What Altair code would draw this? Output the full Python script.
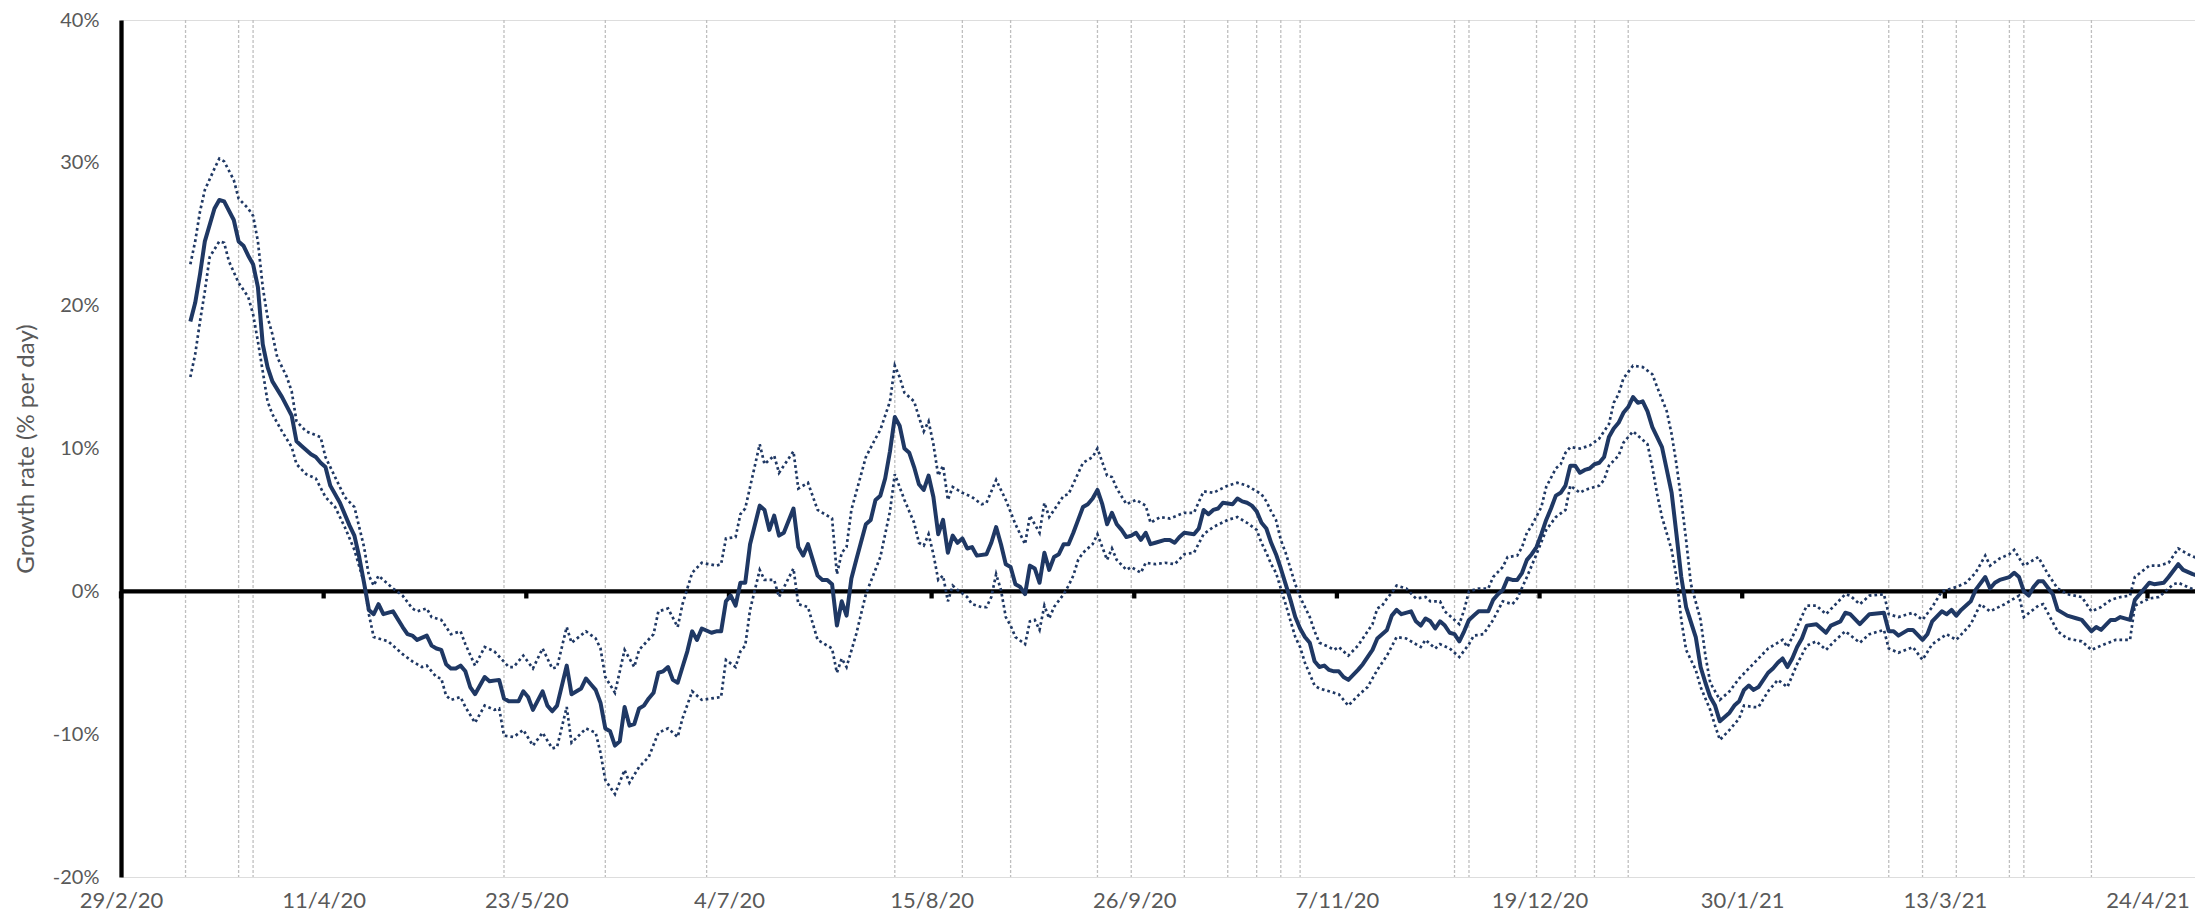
import altair as alt
import pandas as pd

# ---- data (days since 29/2/20, growth rate in % per day) ----
main_day = [14,15,16,17,19,20,21,23,24,25,26,27,28,29,30,31,33,35,36,37,39,40,41,42,43,45,47,48,49,50,51,52,53,54,56,58,59,60,61,63,64,65,66,67,68,69,70,71,72,73,75,76,78,79,80,82,83,84,85,87,88,89,90,92,93,95,96,97,98,99,100,101,102,103,104,105,106,107,108,109,110,111,112,113,114,115,116,117,118,119,120,122,123,124,125,126,127,128,129,130,132,133,134,135,136,137,139,140,141,142,144,145,146,147,148,149,150,151,152,154,155,156,157,158,159,160,161,162,163,164,165,166,167,168,169,170,171,172,173,174,175,176,177,179,180,181,182,183,184,185,186,187,188,189,190,191,192,193,194,195,196,197,198,199,200,201,202,203,204,205,206,207,208,209,210,211,212,213,214,216,217,218,219,220,222,223,224,225,226,227,228,230,231,232,233,234,235,236,237,238,239,240,241,242,243,244,245,246,247,248,249,250,251,252,253,254,256,257,259,260,262,263,264,265,267,268,269,270,271,272,273,274,275,276,277,278,279,280,281,283,284,285,286,287,288,289,290,291,292,293,294,295,296,297,298,299,300,301,302,303,304,305,306,307,308,309,310,311,312,313,314,315,316,317,319,320,321,322,323,324,326,327,328,329,330,331,332,333,334,335,336,337,338,339,341,342,343,344,345,346,347,348,349,351,353,354,356,357,358,360,362,365,366,367,368,370,371,373,374,375,377,378,379,380,381,383,384,386,387,388,389,391,392,393,394,395,396,397,398,400,401,403,405,406,407,408,409,410,412,413,414,416,417,419,420,421,423,424,426,427,429,430,431]
main_val = [18.9,20.2,22.2,24.5,26.8,27.4,27.3,26.0,24.5,24.2,23.5,22.9,21.3,17.3,15.7,14.7,13.6,12.3,10.5,10.2,9.6,9.4,9.0,8.7,7.4,6.2,4.6,3.9,2.4,0.6,-1.3,-1.6,-0.9,-1.6,-1.4,-2.5,-3.0,-3.1,-3.4,-3.1,-3.8,-4.0,-4.1,-5.1,-5.4,-5.4,-5.2,-5.6,-6.7,-7.2,-6.0,-6.3,-6.2,-7.5,-7.7,-7.7,-7.0,-7.4,-8.3,-7.0,-8.0,-8.4,-8.0,-5.2,-7.2,-6.8,-6.1,-6.5,-6.9,-7.8,-9.6,-9.8,-10.8,-10.5,-8.1,-9.4,-9.3,-8.2,-8.0,-7.5,-7.1,-5.7,-5.6,-5.3,-6.2,-6.4,-5.3,-4.2,-2.8,-3.4,-2.6,-2.9,-2.8,-2.8,-0.7,-0.3,-1.0,0.6,0.6,3.3,6.0,5.7,4.3,5.3,3.9,4.1,5.8,3.1,2.5,3.3,1.1,0.8,0.8,0.5,-2.4,-0.7,-1.7,0.9,2.2,4.7,5.0,6.4,6.7,7.9,9.8,12.2,11.6,10.0,9.7,8.7,7.5,7.1,8.1,6.6,4.0,5.0,2.7,3.9,3.4,3.7,3.0,3.1,2.5,2.6,3.4,4.5,3.3,1.9,1.7,0.5,0.3,-0.2,1.8,1.6,0.6,2.7,1.5,2.4,2.6,3.3,3.3,4.1,5.0,5.9,6.1,6.5,7.1,6.1,4.7,5.5,4.7,4.3,3.8,3.9,4.1,3.6,4.1,3.3,3.4,3.6,3.6,3.4,3.8,4.1,4.0,4.4,5.7,5.4,5.7,5.8,6.2,6.1,6.5,6.3,6.2,6.0,5.6,4.8,4.4,3.4,2.6,1.6,0.5,-0.6,-1.8,-2.6,-3.2,-3.6,-4.9,-5.3,-5.2,-5.5,-5.6,-5.6,-6.0,-6.2,-5.5,-5.1,-4.1,-3.3,-2.7,-1.7,-1.3,-1.6,-1.4,-2.1,-2.4,-1.9,-2.1,-2.6,-2.1,-2.4,-2.9,-3.0,-3.5,-2.8,-2.0,-1.7,-1.4,-1.4,-0.6,-0.2,0.1,0.9,0.8,0.8,1.3,2.2,2.6,3.1,4.0,5.0,5.8,6.7,6.9,7.4,8.8,8.8,8.3,8.5,8.6,8.9,9.0,9.4,10.8,11.4,11.8,12.5,12.9,13.6,13.2,13.3,12.6,11.5,10.1,8.5,6.9,4.0,1.0,-1.1,-3.2,-5.3,-6.4,-7.4,-8.0,-9.1,-8.8,-8.5,-8.0,-7.7,-6.9,-6.6,-6.9,-6.7,-5.7,-5.4,-5.0,-4.7,-5.3,-4.7,-3.9,-3.3,-2.4,-2.3,-2.9,-2.4,-2.1,-1.5,-1.6,-2.3,-1.6,-1.5,-2.8,-2.8,-3.1,-2.7,-2.7,-3.4,-3.0,-2.1,-1.4,-1.6,-1.3,-1.7,-1.3,-0.7,0.1,1.0,0.2,0.6,0.8,1.0,1.3,1.0,0.0,-0.3,0.3,0.7,0.7,-0.2,-1.3,-1.7,-1.9,-2.0,-2.4,-2.8,-2.5,-2.7,-2.0,-2.0,-1.8,-2.0,-0.6,0.2,0.6,0.5,0.6,1.0,1.9,1.5,1.2,1.1,0.5]

upper_day = [14,15,16,17,19,20,21,23,24,26,27,28,29,30,31,32,34,35,36,38,41,42,44,46,48,50,51,52,53,55,56,58,60,61,63,64,66,68,70,71,73,75,77,80,81,83,85,87,89,90,92,93,96,98,99,100,102,104,106,107,110,111,113,115,116,118,120,123,124,125,127,128,129,132,133,135,136,139,140,142,144,147,148,149,150,151,154,156,157,159,160,161,162,164,165,166,167,168,169,170,171,172,174,176,178,179,181,183,185,187,188,190,191,192,195,196,199,201,202,204,205,206,208,210,212,213,215,217,220,222,224,226,229,231,233,235,236,237,238,239,240,241,242,243,244,246,247,248,250,251,252,254,256,257,259,260,261,262,263,264,266,268,270,271,273,274,276,277,278,279,281,283,284,286,287,289,290,291,292,294,295,297,298,299,300,302,304,306,308,309,310,311,313,315,317,318,320,321,322,323,324,325,327,328,329,331,333,335,337,339,341,342,344,345,347,349,351,353,355,357,358,360,362,365,366,368,371,373,375,377,380,382,384,386,387,389,391,392,394,396,397,399,401,403,406,408,410,412,414,416,417,420,422,424,426,428,430]
upper_val = [22.9,24.5,26.6,28.1,29.6,30.3,30.1,28.8,27.5,26.8,26.3,24.5,21.3,19.2,18.0,16.4,15.0,14.0,11.9,11.2,10.8,9.4,8.0,6.6,5.9,3.1,1.1,0.4,1.1,0.5,0.2,-0.3,-1.2,-1.4,-1.2,-1.8,-2.0,-3.0,-2.8,-3.7,-5.2,-3.9,-4.2,-5.3,-5.3,-4.5,-5.4,-4.0,-5.4,-5.3,-2.5,-3.6,-2.8,-3.3,-4.0,-6.0,-7.1,-4.1,-5.3,-4.1,-3.0,-1.4,-1.2,-2.5,-0.9,1.3,2.0,1.8,1.9,3.7,3.8,5.4,5.8,10.3,8.9,9.5,8.3,9.8,7.2,7.6,5.7,5.1,1.2,2.7,3.1,5.7,9.4,10.7,11.3,13.3,15.8,15.0,13.9,13.3,12.2,11.2,11.9,10.3,8.1,8.8,6.4,7.3,6.9,6.6,6.1,6.2,7.8,6.4,4.7,3.3,5.3,4.1,6.2,5.2,6.7,6.8,9.0,9.4,10.0,8.1,8.0,7.2,6.1,6.4,6.0,4.8,5.2,5.1,5.5,5.5,7.0,6.9,7.4,7.6,7.4,7.0,6.8,6.3,5.6,5.0,3.6,2.7,1.6,0.5,-0.4,-1.8,-2.8,-3.6,-3.9,-4.1,-3.9,-4.5,-3.8,-3.3,-2.3,-1.2,-1.0,-0.5,-0.1,0.4,0.2,-0.5,-0.4,-0.7,-0.7,-1.4,-2.0,-2.3,-1.3,0.0,0.2,0.2,1.0,1.7,2.4,2.5,3.1,4.1,4.6,5.9,7.3,8.6,8.9,9.7,10.1,10.0,10.2,10.7,11.7,13.2,13.8,14.9,15.8,15.7,15.2,14.3,12.6,11.0,8.9,6.4,3.6,0.5,-2.0,-4.5,-6.4,-7.6,-7.0,-6.1,-5.4,-4.7,-4.0,-3.8,-3.4,-3.9,-2.5,-1.0,-1.0,-1.6,-0.9,-0.2,-0.3,-0.9,-0.3,-0.2,-1.6,-1.8,-1.5,-2.0,-1.1,0.0,0.3,0.6,1.3,2.5,1.8,2.3,2.6,2.9,1.8,2.2,2.4,1.2,0.2,-0.2,-0.4,-1.4,-1.1,-0.6,-0.4,-0.3,1.0,1.8,1.8,2.0,3.0,2.6,2.3]

lower_day = [14,15,16,17,18,20,21,22,24,26,27,28,29,30,31,33,35,36,38,40,42,44,46,48,50,51,52,53,55,58,60,62,63,65,66,67,68,70,71,73,75,77,78,79,81,83,85,87,89,90,92,93,96,98,99,100,102,104,105,107,109,111,113,115,116,118,120,122,124,125,127,128,129,130,132,133,135,136,139,140,142,144,147,148,149,150,152,154,157,159,160,162,164,165,166,167,168,169,170,171,172,173,175,176,178,179,180,181,182,183,184,185,187,188,189,190,191,192,193,195,196,197,198,199,201,202,203,204,205,206,208,209,211,212,214,216,218,220,222,224,226,229,231,233,235,236,237,238,239,240,241,243,244,245,247,248,249,251,252,253,254,256,258,260,262,264,266,269,270,272,273,275,277,279,280,282,284,286,288,289,291,293,295,297,299,300,302,303,306,307,308,310,311,313,314,316,317,318,319,321,322,323,324,326,327,329,330,331,333,335,336,338,339,341,343,345,347,349,351,353,355,357,360,362,365,366,368,371,373,375,378,380,383,385,387,390,393,394,397,398,401,403,406,408,410,413,416,417,420,422,425,426,428,430]
lower_val = [15.0,16.6,18.9,21.0,23.4,24.5,24.4,23.1,21.6,20.6,19.4,17.5,15.4,13.3,12.4,11.2,10.1,8.9,8.2,7.9,6.6,5.9,4.5,2.9,0.6,-1.6,-3.2,-3.3,-3.5,-4.4,-4.9,-5.3,-5.2,-6.0,-6.1,-7.3,-7.6,-7.4,-8.1,-9.2,-8.0,-8.3,-8.2,-10.1,-10.2,-9.7,-10.8,-9.9,-11.0,-10.9,-8.1,-10.6,-9.6,-9.9,-11.3,-13.2,-14.2,-12.5,-13.4,-12.3,-11.6,-9.9,-9.6,-10.2,-8.9,-7.0,-7.6,-7.5,-7.4,-4.8,-5.3,-4.2,-3.8,-1.3,1.5,0.8,0.8,-0.4,1.6,-0.9,-1.1,-3.4,-4.0,-5.7,-4.7,-5.3,-3.0,-0.2,2.4,5.6,8.2,6.4,4.8,3.4,3.2,4.0,2.6,0.8,1.1,-0.7,0.4,0.1,-0.4,-0.9,-1.1,-1.1,-0.4,1.2,0.1,-1.8,-2.4,-3.2,-3.7,-2.1,-2.0,-2.7,-1.0,-1.9,-1.1,-0.2,0.4,1.1,2.2,2.7,3.3,4.0,3.1,2.2,3.0,2.2,1.5,1.7,1.3,2.0,1.9,2.0,1.9,2.6,2.7,4.0,4.5,5.0,5.2,4.8,4.3,3.4,2.7,1.9,1.3,0.2,-0.9,-3.2,-3.9,-5.0,-6.6,-6.8,-6.9,-7.1,-7.2,-7.6,-8.0,-7.3,-6.7,-5.5,-4.5,-3.2,-3.3,-3.9,-3.4,-4.0,-3.7,-4.0,-4.6,-3.7,-3.1,-3.0,-2.0,-0.7,-0.9,-0.5,1.0,2.6,4.3,5.2,5.7,7.4,6.9,7.1,7.4,7.8,8.8,9.5,10.4,11.2,10.9,10.3,8.7,6.8,5.2,2.9,1.0,-2.0,-4.1,-5.5,-6.7,-8.3,-9.4,-10.4,-9.7,-8.9,-8.0,-8.1,-8.1,-7.0,-6.2,-6.7,-5.1,-3.8,-3.5,-4.1,-3.4,-2.8,-3.6,-3.0,-2.7,-4.0,-4.3,-3.9,-4.8,-3.7,-3.0,-3.4,-2.3,-0.9,-1.4,-0.9,-0.3,-1.8,-1.0,-0.9,-2.8,-3.3,-3.5,-4.1,-3.8,-3.4,-3.4,-1.0,-0.5,-0.4,0.5,0.6,0.3,0.0]

# dates of the vertical reference lines (days since 29/2/20)
event_day = [13,24,27,79,100,121,160,174,184,202,209,220,229,235,240,244,276,279,293,301,305,312,366,373,380,391,394,408]
# x tick dates (days since 29/2/20)
tick_day = [0,42,84,126,168,210,252,294,336,378,420]
y_ticks = [-20,-10,0,10,20,30,40]

START = pd.Timestamp("2020-02-29", tz="UTC")
def to_ms(days, hours=0.0):
    return [int((START + pd.Timedelta(days=d, hours=hours)).value // 10**6) for d in days]

PLOT_W, PLOT_H = 2074, 857
X_END_DAYS = PLOT_W / 4.825
x_dom = [to_ms([0])[0], to_ms([X_END_DAYS])[0]]
POINT_SHIFT_H = 9  # points sit inside the day slot (Excel date axis)

FONT = "Lato"
GREY = "#595959"
NAVY = "#1F3864"

x_scale = alt.Scale(type="utc", domain=x_dom, nice=False)
y_scale = alt.Scale(domain=[-20, 40], nice=False, zero=False)
x_axis = alt.Axis(values=to_ms(tick_day), labelExpr="utcFormat(datum.value, '%-d/%-m/%y')",
                  domain=False, ticks=False, grid=False, labelFont=FONT, labelFontSize=22,
                  labelColor=GREY, labelPadding=13, labelFlush=False, labelOverlap=False, title=None)
y_axis = alt.Axis(values=y_ticks, labelExpr="datum.value + '%'", domain=True, domainColor="black",
                  domainWidth=4.3, ticks=False, grid=False, labelFont=FONT, labelFontSize=20,
                  labelColor=GREY, labelPadding=22, title="Growth rate (% per day)",
                  titleFont=FONT, titleFontSize=24, titleColor=GREY, titleFontWeight="normal",
                  titleX=-95, titleY=PLOT_H / 2, titleAngle=-90, titleAlign="center",
                  titleBaseline="middle")

def X(field="t"):
    return alt.X(f"{field}:T", scale=x_scale, axis=x_axis)
def Y(field="v"):
    return alt.Y(f"{field}:Q", scale=y_scale, axis=y_axis)

df_main = pd.DataFrame({"t": to_ms(main_day, POINT_SHIFT_H), "v": main_val})
df_up = pd.DataFrame({"t": to_ms(upper_day, POINT_SHIFT_H), "v": upper_val})
df_lo = pd.DataFrame({"t": to_ms(lower_day, POINT_SHIFT_H), "v": lower_val})
df_ev = pd.DataFrame({"t": to_ms(event_day, POINT_SHIFT_H)})
df_zero = pd.DataFrame({"v": [0]})
df_ticks = pd.DataFrame({"t": to_ms(tick_day), "v": [0.0] * len(tick_day), "v2": [-0.5] * len(tick_day)})

events = alt.Chart(df_ev).mark_rule(color="#BFBFBF", strokeWidth=1.3, strokeDash=[3, 2]).encode(x=X())
zero = alt.Chart(df_zero).mark_rule(color="black", strokeWidth=4.3).encode(y=Y())
ticks = alt.Chart(df_ticks).mark_rule(color="black", strokeWidth=4.3).encode(x=X(), y=Y(), y2="v2:Q")
upper = alt.Chart(df_up).mark_line(color=NAVY, strokeWidth=2.7, strokeDash=[2.7, 3], clip=True).encode(x=X(), y=Y())
lower = alt.Chart(df_lo).mark_line(color=NAVY, strokeWidth=2.7, strokeDash=[2.7, 3], clip=True).encode(x=X(), y=Y())
main = alt.Chart(df_main).mark_line(color=NAVY, strokeWidth=4, strokeJoin="round", clip=True).encode(x=X(), y=Y())

chart = alt.layer(events, zero, ticks, upper, lower, main).properties(
    width=PLOT_W, height=PLOT_H,
    autosize=alt.AutoSizeParams(type="none"),
    padding={"left": 113, "top": 12, "right": 0, "bottom": 37},
).configure_view(stroke=None).configure(background="white")

chart.save("out.html", embed_options={"renderer": "svg", "actions": False})
